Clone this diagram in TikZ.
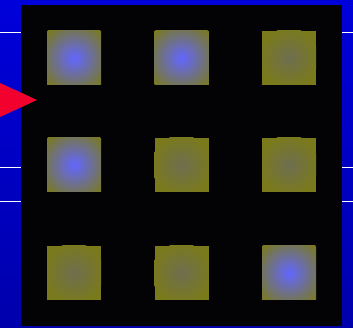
\documentclass[tikz,border=0pt]{standalone}
\usepackage{tikz}
\usepackage{xcolor}
\usetikzlibrary{positioning,calc}
\definecolor{bgtop}{HTML}{0000DA}
\definecolor{bgbot}{HTML}{0000AC}
\definecolor{panel}{HTML}{030306}
\definecolor{padolive}{HTML}{7A7A1C}
\definecolor{paddim}{HTML}{6E6E50}
\definecolor{glowblue}{HTML}{6266FF}
\definecolor{markred}{HTML}{F2002E}
\begin{document}
\begin{tikzpicture}[x=1pt,y=-1pt,
    pad/.style={draw=none,fill=padolive,minimum size=54pt,inner sep=0pt,
      path picture={\shade[inner color=paddim,outer color=padolive]
        (path picture bounding box.center) circle (30pt);}},
    litpad/.style={pad,
      path picture={\shade[inner color=glowblue,outer color=padolive]
        (path picture bounding box.center) circle (38pt);}}]
      \useasboundingbox (0,0) rectangle (353,328);
      % backdrop and dark panel
      \shade[top color=bgtop,bottom color=bgbot] (0,0) rectangle (353,328);
      \fill[panel] (21,5) rectangle (342,326);
      % white rules on both sides
      \foreach \yy in {33,168,202} {
        \draw[white,line width=1pt] (0,\yy) -- (21,\yy);
        \draw[white,line width=1pt] (342,\yy) -- (353,\yy);
      }
      % 3x3 pads, lit ones glow
      \node[litpad] (p11) at (74,58) {};
      \node[litpad] (p12) at (181.5,58) {};
      \node[pad]    (p13) at (289,58) {};
      \node[litpad] (p21) at (74,165) {};
      \node[pad]    (p22) at (181.5,165) {};
      \node[pad]    (p23) at (289,165) {};
      \node[pad]    (p31) at (74,273) {};
      \node[pad]    (p32) at (181.5,273) {};
      \node[litpad] (p33) at (289,273) {};
      % row marker
      \fill[markred] (0,83) -- (37,100) -- (0,117) -- cycle;
    \end{tikzpicture}
\end{document}
